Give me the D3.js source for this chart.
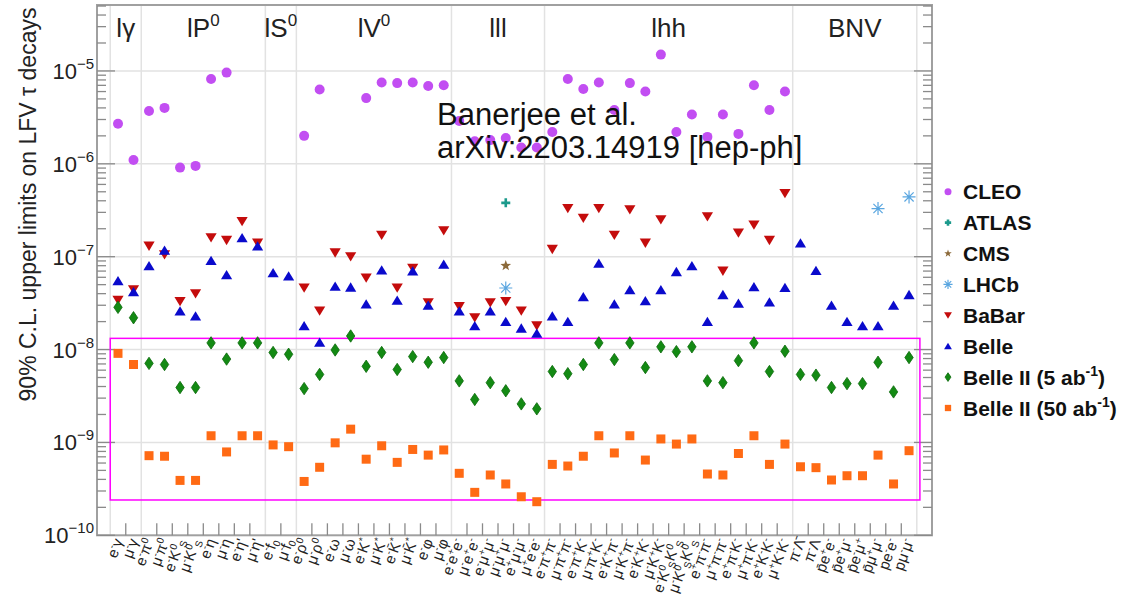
<!DOCTYPE html>
<html><head><meta charset="utf-8">
<script src="https://cdn.jsdelivr.net/npm/d3@7"></script>
<style>
body{margin:0;background:#fff;}
svg{display:block;font-family:"Liberation Sans",Arial,Helvetica,sans-serif;}
</style>
</head><body>
<svg id="chart" width="1136" height="599"></svg>
<script>
const N = null;
const categories = [
  "e^{-}γ","μ^{-}γ",
  "e^{-}π^{0}","μ^{-}π^{0}","e^{-}K^{0}_{S}","μ^{-}K^{0}_{S}","e^{-}η","μ^{-}η","e^{-}η'","μ^{-}η'",
  "e^{-}f_{0}","μ^{-}f_{0}",
  "e^{-}ρ^{0}","μ^{-}ρ^{0}","e^{-}ω","μ^{-}ω","e^{-}K^{*}","μ^{-}K^{*}","e^{-}K̄^{*}","μ^{-}K̄^{*}","e^{-}φ","μ^{-}φ",
  "e^{-}e^{+}e^{-}","μ^{-}e^{+}e^{-}","e^{-}μ^{+}μ^{-}","μ^{-}μ^{+}μ^{-}","e^{+}μ^{-}μ^{-}","μ^{+}e^{-}e^{-}",
  "e^{-}π^{+}π^{-}","μ^{-}π^{+}π^{-}","e^{-}π^{+}K^{-}","μ^{-}π^{+}K^{-}","e^{-}K^{+}π^{-}","μ^{-}K^{+}π^{-}",
  "e^{-}K^{+}K^{-}","μ^{-}K^{+}K^{-}","e^{-}K^{0}_{S}K^{0}_{S}","μ^{-}K^{0}_{S}K^{0}_{S}","e^{+}π^{-}π^{-}","μ^{+}π^{-}π^{-}",
  "e^{+}π^{-}K^{-}","μ^{+}π^{-}K^{-}","e^{+}K^{-}K^{-}","μ^{+}K^{-}K^{-}",
  "π^{-}Λ̄","π^{-}Λ","p̄e^{+}e^{-}","p̄e^{+}μ^{-}","p̄e^{-}μ^{+}","p̄μ^{+}μ^{-}","pe^{-}e^{-}","pμ^{-}μ^{-}"
];
const groupLabels = ["lγ","lP^{0}","lS^{0}","lV^{0}","lll","lhh","BNV"];
const groupSizes  = [2, 8, 2, 10, 6, 16, 8];
const yTickValues = [1e-10, 1e-9, 1e-8, 1e-7, 1e-6, 1e-5];
const yTickLabels = ["10^{−10}","10^{−9}","10^{−8}","10^{−7}","10^{−6}","10^{−5}"];

const cleo = [2.7e-6,1.1e-6,3.7e-6,4.0e-6,9.1e-7,9.5e-7,8.2e-6,9.6e-6,N,N,
  N,N,2.0e-6,6.3e-6,N,N,5.1e-6,7.5e-6,7.4e-6,7.5e-6,
  6.9e-6,7.0e-6,2.9e-6,1.75e-6,1.8e-6,1.9e-6,1.5e-6,1.5e-6,2.2e-6,8.2e-6,
  6.4e-6,7.5e-6,3.8e-6,7.4e-6,6.0e-6,1.5e-5,2.2e-6,3.4e-6,1.95e-6,3.4e-6,
  2.1e-6,7.0e-6,3.8e-6,6.0e-6,N,N,N,N,N,N,N,N];
const atlas = [N,N,N,N,N,N,N,N,N,N, N,N,N,N,N,N,N,N,N,N, N,N,N,N,N,3.8e-7,N,N,N,N,
  N,N,N,N,N,N,N,N,N,N, N,N,N,N,N,N,N,N,N,N, N,N];
const cms = [N,N,N,N,N,N,N,N,N,N, N,N,N,N,N,N,N,N,N,N, N,N,N,N,N,8.0e-8,N,N,N,N,
  N,N,N,N,N,N,N,N,N,N, N,N,N,N,N,N,N,N,N,N, N,N];
const lhcb = [N,N,N,N,N,N,N,N,N,N, N,N,N,N,N,N,N,N,N,N, N,N,N,N,N,4.6e-8,N,N,N,N,
  N,N,N,N,N,N,N,N,N,N, N,N,N,N,N,N,N,N,N,3.3e-7, N,4.4e-7];
const babar = [3.4e-8,4.4e-8,1.3e-7,1.05e-7,3.3e-8,4.0e-8,1.6e-7,1.5e-7,2.4e-7,1.4e-7,
  N,N,4.6e-8,2.6e-8,1.1e-7,1.0e-7,5.9e-8,1.7e-7,4.6e-8,7.5e-8,
  3.2e-8,1.9e-7,2.9e-8,2.2e-8,3.2e-8,3.3e-8,2.6e-8,1.8e-8,1.2e-7,3.3e-7,
  2.6e-7,3.3e-7,1.7e-7,3.2e-7,1.4e-7,2.5e-7,N,N,2.7e-7,7.0e-8,
  1.8e-7,2.2e-7,1.5e-7,4.8e-7,N,N,N,N,N,N,N,N];
const belle = [5.5e-8,4.2e-8,8.0e-8,1.17e-7,2.6e-8,2.3e-8,9.1e-8,6.4e-8,1.6e-7,1.3e-7,
  6.7e-8,6.2e-8,1.8e-8,1.2e-8,4.8e-8,4.7e-8,3.1e-8,7.2e-8,3.4e-8,7.0e-8,
  3.0e-8,8.3e-8,2.6e-8,1.8e-8,2.6e-8,2.0e-8,1.7e-8,1.5e-8,2.3e-8,2.0e-8,
  3.7e-8,8.5e-8,3.1e-8,4.4e-8,3.35e-8,4.4e-8,6.9e-8,8.0e-8,2.0e-8,3.9e-8,
  3.15e-8,4.75e-8,3.25e-8,4.65e-8,1.4e-7,7.1e-8,3.0e-8,2.0e-8,1.8e-8,1.8e-8,
  3.0e-8,3.9e-8];
const belle2_5 = [2.85e-8,2.2e-8,7.1e-9,6.9e-9,3.9e-9,3.9e-9,1.18e-8,7.9e-9,1.18e-8,1.18e-8,
  9.3e-9,8.9e-9,3.8e-9,5.4e-9,9.9e-9,1.4e-8,6.6e-9,9.3e-9,6.1e-9,8.4e-9,
  7.3e-9,8.2e-9,4.6e-9,2.9e-9,4.4e-9,3.6e-9,2.6e-9,2.3e-9,5.8e-9,5.5e-9,
  6.9e-9,1.18e-8,7.8e-9,1.18e-8,6.4e-9,1.07e-8,9.5e-9,1.07e-8,4.6e-9,4.4e-9,
  7.6e-9,1.18e-8,5.8e-9,9.6e-9,5.4e-9,5.3e-9,3.9e-9,4.3e-9,4.3e-9,7.3e-9,
  3.5e-9,8.2e-9];
const belle2_50 = [9.1e-9,6.9e-9,7.2e-10,7.1e-10,3.9e-10,3.9e-10,1.18e-9,7.9e-10,1.18e-9,1.18e-9,
  9.4e-10,9.0e-10,3.8e-10,5.4e-10,9.9e-10,1.39e-9,6.6e-10,9.2e-10,6.1e-10,8.4e-10,
  7.3e-10,8.3e-10,4.65e-10,2.9e-10,4.46e-10,3.57e-10,2.6e-10,2.3e-10,5.8e-10,5.57e-10,
  7.1e-10,1.18e-9,7.7e-10,1.18e-9,6.46e-10,1.09e-9,9.6e-10,1.09e-9,4.57e-10,4.46e-10,
  7.6e-10,1.18e-9,5.8e-10,9.6e-10,5.47e-10,5.35e-10,3.94e-10,4.38e-10,4.38e-10,7.3e-10,
  3.57e-10,8.15e-10];

const legendNames = ["CLEO","ATLAS","CMS","LHCb","BaBar","Belle","Belle II (5 ab^{-1})","Belle II (50 ab^{-1})"];
const seriesValues = [cleo, atlas, cms, lhcb, babar, belle, belle2_5, belle2_50];
const seriesShapes = ["circle","cross","star","asterisk","down","up","diamond","square"];
const seriesColors = ["#c24ef2","#1c9a8c","#8c6a3a","#5aa6e0","#c40c0c","#0a0acc","#138a13","#ff6a14"];
const projectionBox = [-0.5, 51.7, 2.4e-10, 1.32e-8];
const annotation = ["Banerjee et al.", "arXiv:2203.14919 [hep-ph]"];
const yTitle = "90% C.L. upper limits on LFV τ decays";

const svg = d3.select("#chart");
const L = 97, R = 932, T = 5, B = 535.3;
const x = d3.scaleLinear().domain([-1.354, 52.48]).range([L, R]);
const y = d3.scaleLog().domain([1e-10, 5.13e-5]).range([B, T]);

function rich(sel, str, base, small, shift) {
  const re = /\^\{([^}]*)\}|_\{([^}]*)\}|([^\^_]+)/g;
  let m, cur = 0;
  while ((m = re.exec(str))) {
    let target = 0, txt, fs = base;
    if (m[1] !== undefined) { target = -shift; txt = m[1]; fs = small; }
    else if (m[2] !== undefined) { target = shift * 0.55; txt = m[2]; fs = small; }
    else { txt = m[3]; }
    sel.append("tspan").attr("dy", target - cur).attr("font-size", fs).text(txt);
    cur = target;
  }
}

// group boundaries
const bounds = [];
let acc = 0;
bounds.push(-0.5);
groupSizes.forEach(s => { acc += s; bounds.push(acc - 0.5); });

// grid
const grid = svg.append("g").attr("stroke", "#e2e2e2").attr("stroke-width", 1.5);
yTickValues.slice(1).forEach(v => grid.append("line").attr("x1", L).attr("x2", R).attr("y1", y(v)).attr("y2", y(v)));
bounds.forEach(b => grid.append("line").attr("x1", x(b)).attr("x2", x(b)).attr("y1", T).attr("y2", B));

// frame
svg.append("rect").attr("x", L).attr("y", T).attr("width", R - L).attr("height", B - T)
  .attr("fill", "none").attr("stroke", "#a0a0a0").attr("stroke-width", 2);

// y ticks (left and right, inward)
const tk = svg.append("g").attr("stroke", "#8a8a8a").attr("stroke-width", 1.3);
for (let e = -10; e <= -5; e++) {
  for (let k = 1; k <= 9; k++) {
    const v = k * Math.pow(10, e);
    if (v > y.domain()[1]) continue;
    const len = k === 1 ? 18 : 9;
    tk.append("line").attr("x1", L).attr("x2", L + len).attr("y1", y(v)).attr("y2", y(v));
    tk.append("line").attr("x1", R).attr("x2", R - len).attr("y1", y(v)).attr("y2", y(v));
  }
}
// x ticks at bin edges (within groups)
categories.forEach((c, i) => {
  const edge = i + 0.5;
  if (i < categories.length - 1 && !bounds.includes(edge)) {
    tk.append("line").attr("x1", x(edge)).attr("x2", x(edge)).attr("y1", B).attr("y2", B - 12);
  }
});

// y tick labels
yTickValues.forEach((v, i) => {
  const t = svg.append("text").attr("x", 94).attr("y", y(v) + 8).attr("text-anchor", "end")
    .attr("fill", "#222");
  rich(t, yTickLabels[i], 22, 15, 10);
});

// y title
svg.append("text").attr("transform", `translate(36,${(7 + 402) / 2}) rotate(-90)`)
  .attr("text-anchor", "middle").attr("font-size", 23).attr("fill", "#222").text(yTitle);

// x labels
categories.forEach((c, i) => {
  const t = svg.append("text").attr("transform", `translate(${x(i) + 5},541) rotate(-70)`)
    .attr("text-anchor", "end").attr("fill", "#222");
  rich(t, c, 15, 10, 5.5);
});

// group labels
let start = 0;
groupLabels.forEach((g, k) => {
  const mid = start + (groupSizes[k] - 1) / 2;
  start += groupSizes[k];
  const t = svg.append("text").attr("x", x(mid)).attr("y", 37).attr("text-anchor", "middle").attr("fill", "#222");
  rich(t, g, 26, 17, 11);
});

// projection box
svg.append("rect").attr("x", x(projectionBox[0])).attr("y", y(projectionBox[3]))
  .attr("width", x(projectionBox[1]) - x(projectionBox[0]))
  .attr("height", y(projectionBox[2]) - y(projectionBox[3]))
  .attr("fill", "none").attr("stroke", "#ff00ff").attr("stroke-width", 1.5);

function shapePath(shape, s) {
  switch (shape) {
    case "circle": { const r = 5 * s; return `M${r},0A${r},${r} 0 1,1 ${-r},0A${r},${r} 0 1,1 ${r},0Z`; }
    case "up": return `M0,${-4.8 * s}L${5.6 * s},${4.5 * s}L${-5.6 * s},${4.5 * s}Z`;
    case "down": return `M${-5.6 * s},${-4.5 * s}L${5.6 * s},${-4.5 * s}L0,${4.8 * s}Z`;
    case "diamond": return `M0,${-6.2 * s}L${4.2 * s},0L0,${6.2 * s}L${-4.2 * s},0Z`;
    case "square": { const h = 4.5 * s; return `M${-h},${-h}H${h}V${h}H${-h}Z`; }
    case "cross": { const h = 4.5 * s; return `M${-h},0H${h}M0,${-h}V${h}`; }
    case "star": {
      let p = "";
      for (let k = 0; k < 10; k++) {
        const a = -Math.PI / 2 + k * Math.PI / 5, r = (k % 2 ? 2.3 : 5.6) * s;
        p += (k ? "L" : "M") + (r * Math.cos(a)).toFixed(2) + "," + (r * Math.sin(a)).toFixed(2);
      }
      return p + "Z";
    }
    case "asterisk": {
      const Rr = 6.5 * s; let p = "";
      for (let k = 0; k < 4; k++) {
        const a = k * Math.PI / 4;
        p += `M${(Rr * Math.cos(a)).toFixed(2)},${(Rr * Math.sin(a)).toFixed(2)}L${(-Rr * Math.cos(a)).toFixed(2)},${(-Rr * Math.sin(a)).toFixed(2)}`;
      }
      return p;
    }
  }
}
function styleMarker(sel, shape, color) {
  if (shape === "cross") sel.attr("fill", "none").attr("stroke", color).attr("stroke-width", 2.6);
  else if (shape === "asterisk") sel.attr("fill", "none").attr("stroke", color).attr("stroke-width", 1.2);
  else if (shape === "diamond") sel.attr("fill", color).attr("stroke", "#0b6a0b").attr("stroke-width", 0.8);
  else sel.attr("fill", color);
}

// markers
seriesValues.forEach((vals, s) => {
  const pts = vals.map((v, i) => ({ i, v })).filter(d => d.v != null);
  const g = svg.append("g");
  g.selectAll("path").data(pts).join("path")
    .attr("transform", d => `translate(${x(d.i)},${y(d.v)})`)
    .attr("d", shapePath(seriesShapes[s], 1))
    .call(sel => styleMarker(sel, seriesShapes[s], seriesColors[s]));
});

// annotation
annotation.forEach((line, k) => {
  svg.append("text").attr("x", 437).attr("y", 125 + k * 33).attr("font-size", 31).attr("fill", "#111").text(line);
});

// legend
legendNames.forEach((name, k) => {
  const yy = 191.7 + k * 30.9;
  const m = svg.append("path").attr("transform", `translate(948,${yy})`).attr("d", shapePath(seriesShapes[k], 0.7));
  styleMarker(m, seriesShapes[k], seriesColors[k]);
  const t = svg.append("text").attr("x", 963).attr("y", yy + 7.5).attr("font-size", 21)
    .attr("font-weight", "bold").attr("fill", "#111");
  rich(t, name, 21, 14, 9);
});
</script>
</body></html>
